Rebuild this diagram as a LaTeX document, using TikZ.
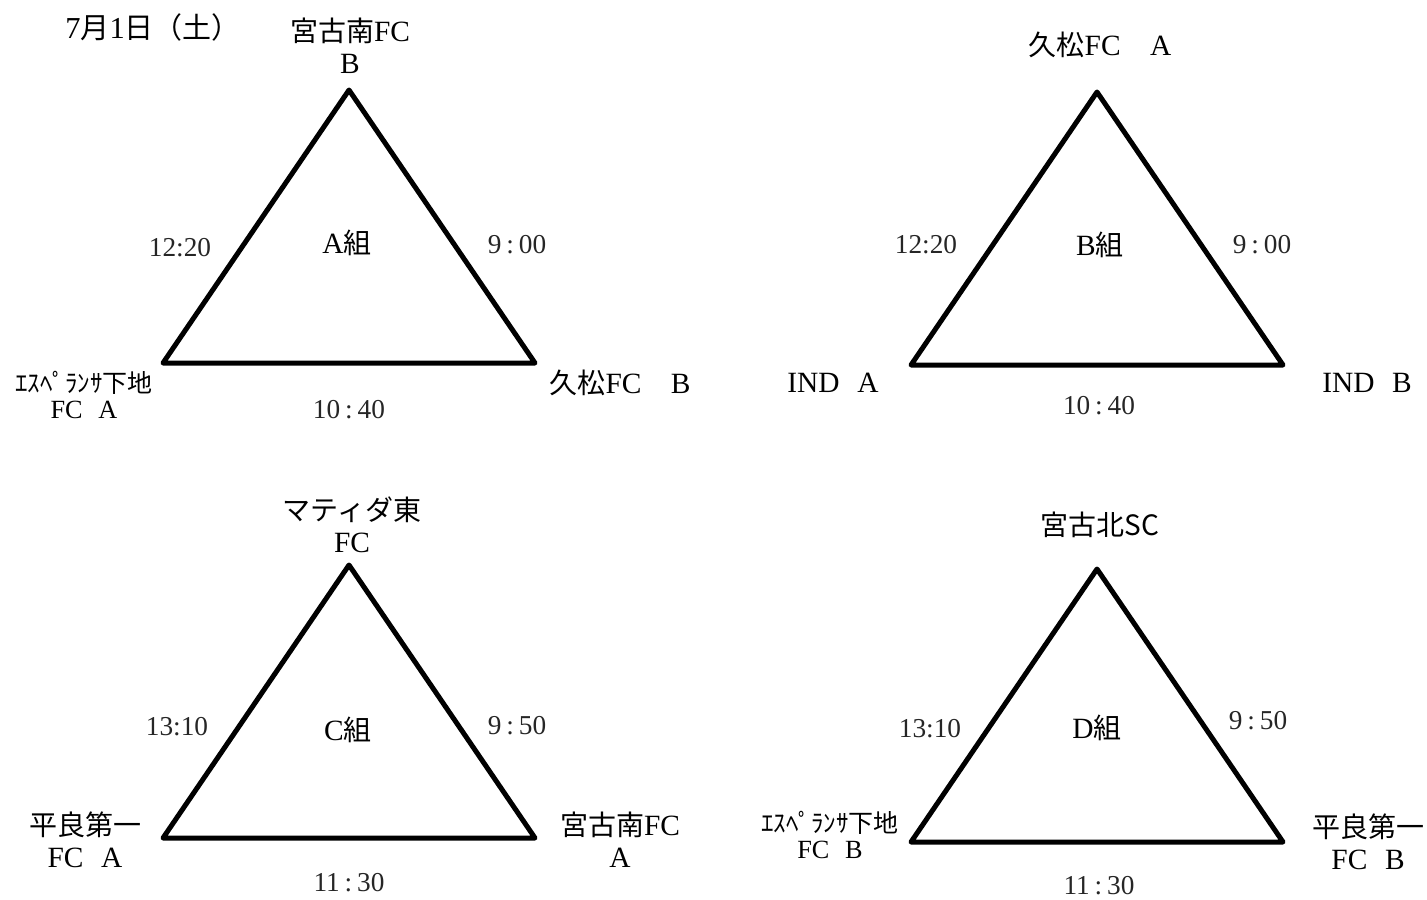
\documentclass[tikz,border=0pt]{standalone}
\usepackage{fontspec}
\setmainfont{Liberation Serif}[Scale=1.05]
\newfontfamily\jp{Noto Sans CJK JP}
\usetikzlibrary{positioning}

\tikzset{
  edge/.style={line width=2.5pt, line join=round},
  team/.style={font=\fontsize{14}{16}\selectfont, align=center, inner sep=0pt},
  slot/.style={font=\fontsize{13}{15}\selectfont, text=black!85, inner sep=0pt},
  small/.style={font=\fontsize{12.5}{13}\selectfont, align=center, inner sep=0pt},
}
\newcommand{\wc}{\hspace{0.18em}:\hspace{0.18em}}

\begin{document}
\begin{tikzpicture}[x=0.5pt,y=-0.5pt]
    \useasboundingbox (0,0) rectangle (1427,899);
    % corners of the four triangles
    \foreach \g/\x/\y in {a/349/90, b/1097/92, c/349/565, d/1097/569} {
      \coordinate (\g top) at (\x,\y);
      \coordinate (\g left) at (\x-186,\y+273);
      \coordinate (\g right) at (\x+186,\y+273);
      \draw[edge] (\g top) -- (\g right) -- (\g left) -- cycle;
    }
    \node[team, font=\fontsize{14.5}{16}\selectfont] (day) at (153,27) {7{\jp 月}1{\jp 日（土）}};
    % group A
    \node[team] (anorth) at (350,46) {{\jp 宮古南}FC\\B};
    \node[team] (aname) at (347,243) {A{\jp 組}};
    \node[slot] (aleftt) at (180,248) {12:20};
    \node[slot] (arightt) at (517,245) {9\wc00};
    \node[slot] (abott) at (349,410) {10\wc40};
    \node[small] (awest) at (84,395) {{\jp ｴｽﾍﾟﾗﾝｻ下地}\\FC\hspace{0.6em}A};
    \node[team] (aeast) at (620,383) {{\jp 久松}FC\hspace{1em}B};
    % group B
    \node[team] (bnorth) at (1100,45) {{\jp 久松}FC\hspace{1em}A};
    \node[team] (bname) at (1100,245) {B{\jp 組}};
    \node[slot] (bleftt) at (926,245) {12:20};
    \node[slot] (brightt) at (1262,245) {9\wc00};
    \node[slot] (bbott) at (1099,406) {10\wc40};
    \node[team] (bwest) at (833,383) {IND\hspace{0.6em}A};
    \node[team] (beast) at (1367,383) {IND\hspace{0.6em}B};
    % group C
    \node[team] (cnorth) at (352,525) {{\jp マティダ東}\\FC};
    \node[team] (cname) at (348,730) {C{\jp 組}};
    \node[slot] (cleftt) at (177,727) {13:10};
    \node[slot] (crightt) at (517,726) {9\wc50};
    \node[slot] (cbott) at (349,883) {11\wc30};
    \node[team] (cwest) at (85,840) {{\jp 平良第一}\\FC\hspace{0.6em}A};
    \node[team] (ceast) at (620,840) {{\jp 宮古南}FC\\A};
    % group D
    \node[team] (dnorth) at (1100,525) {{\jp 宮古北SC}};
    \node[team] (dname) at (1097,728) {D{\jp 組}};
    \node[slot] (dleftt) at (930,729) {13:10};
    \node[slot] (drightt) at (1258,721) {9\wc50};
    \node[slot] (dbott) at (1099,886) {11\wc30};
    \node[small] (dwest) at (830,835) {{\jp ｴｽﾍﾟﾗﾝｻ下地}\\FC\hspace{0.6em}B};
    \node[team] (deast) at (1368,842) {{\jp 平良第一}\\FC\hspace{0.6em}B};
\end{tikzpicture}
\end{document}
